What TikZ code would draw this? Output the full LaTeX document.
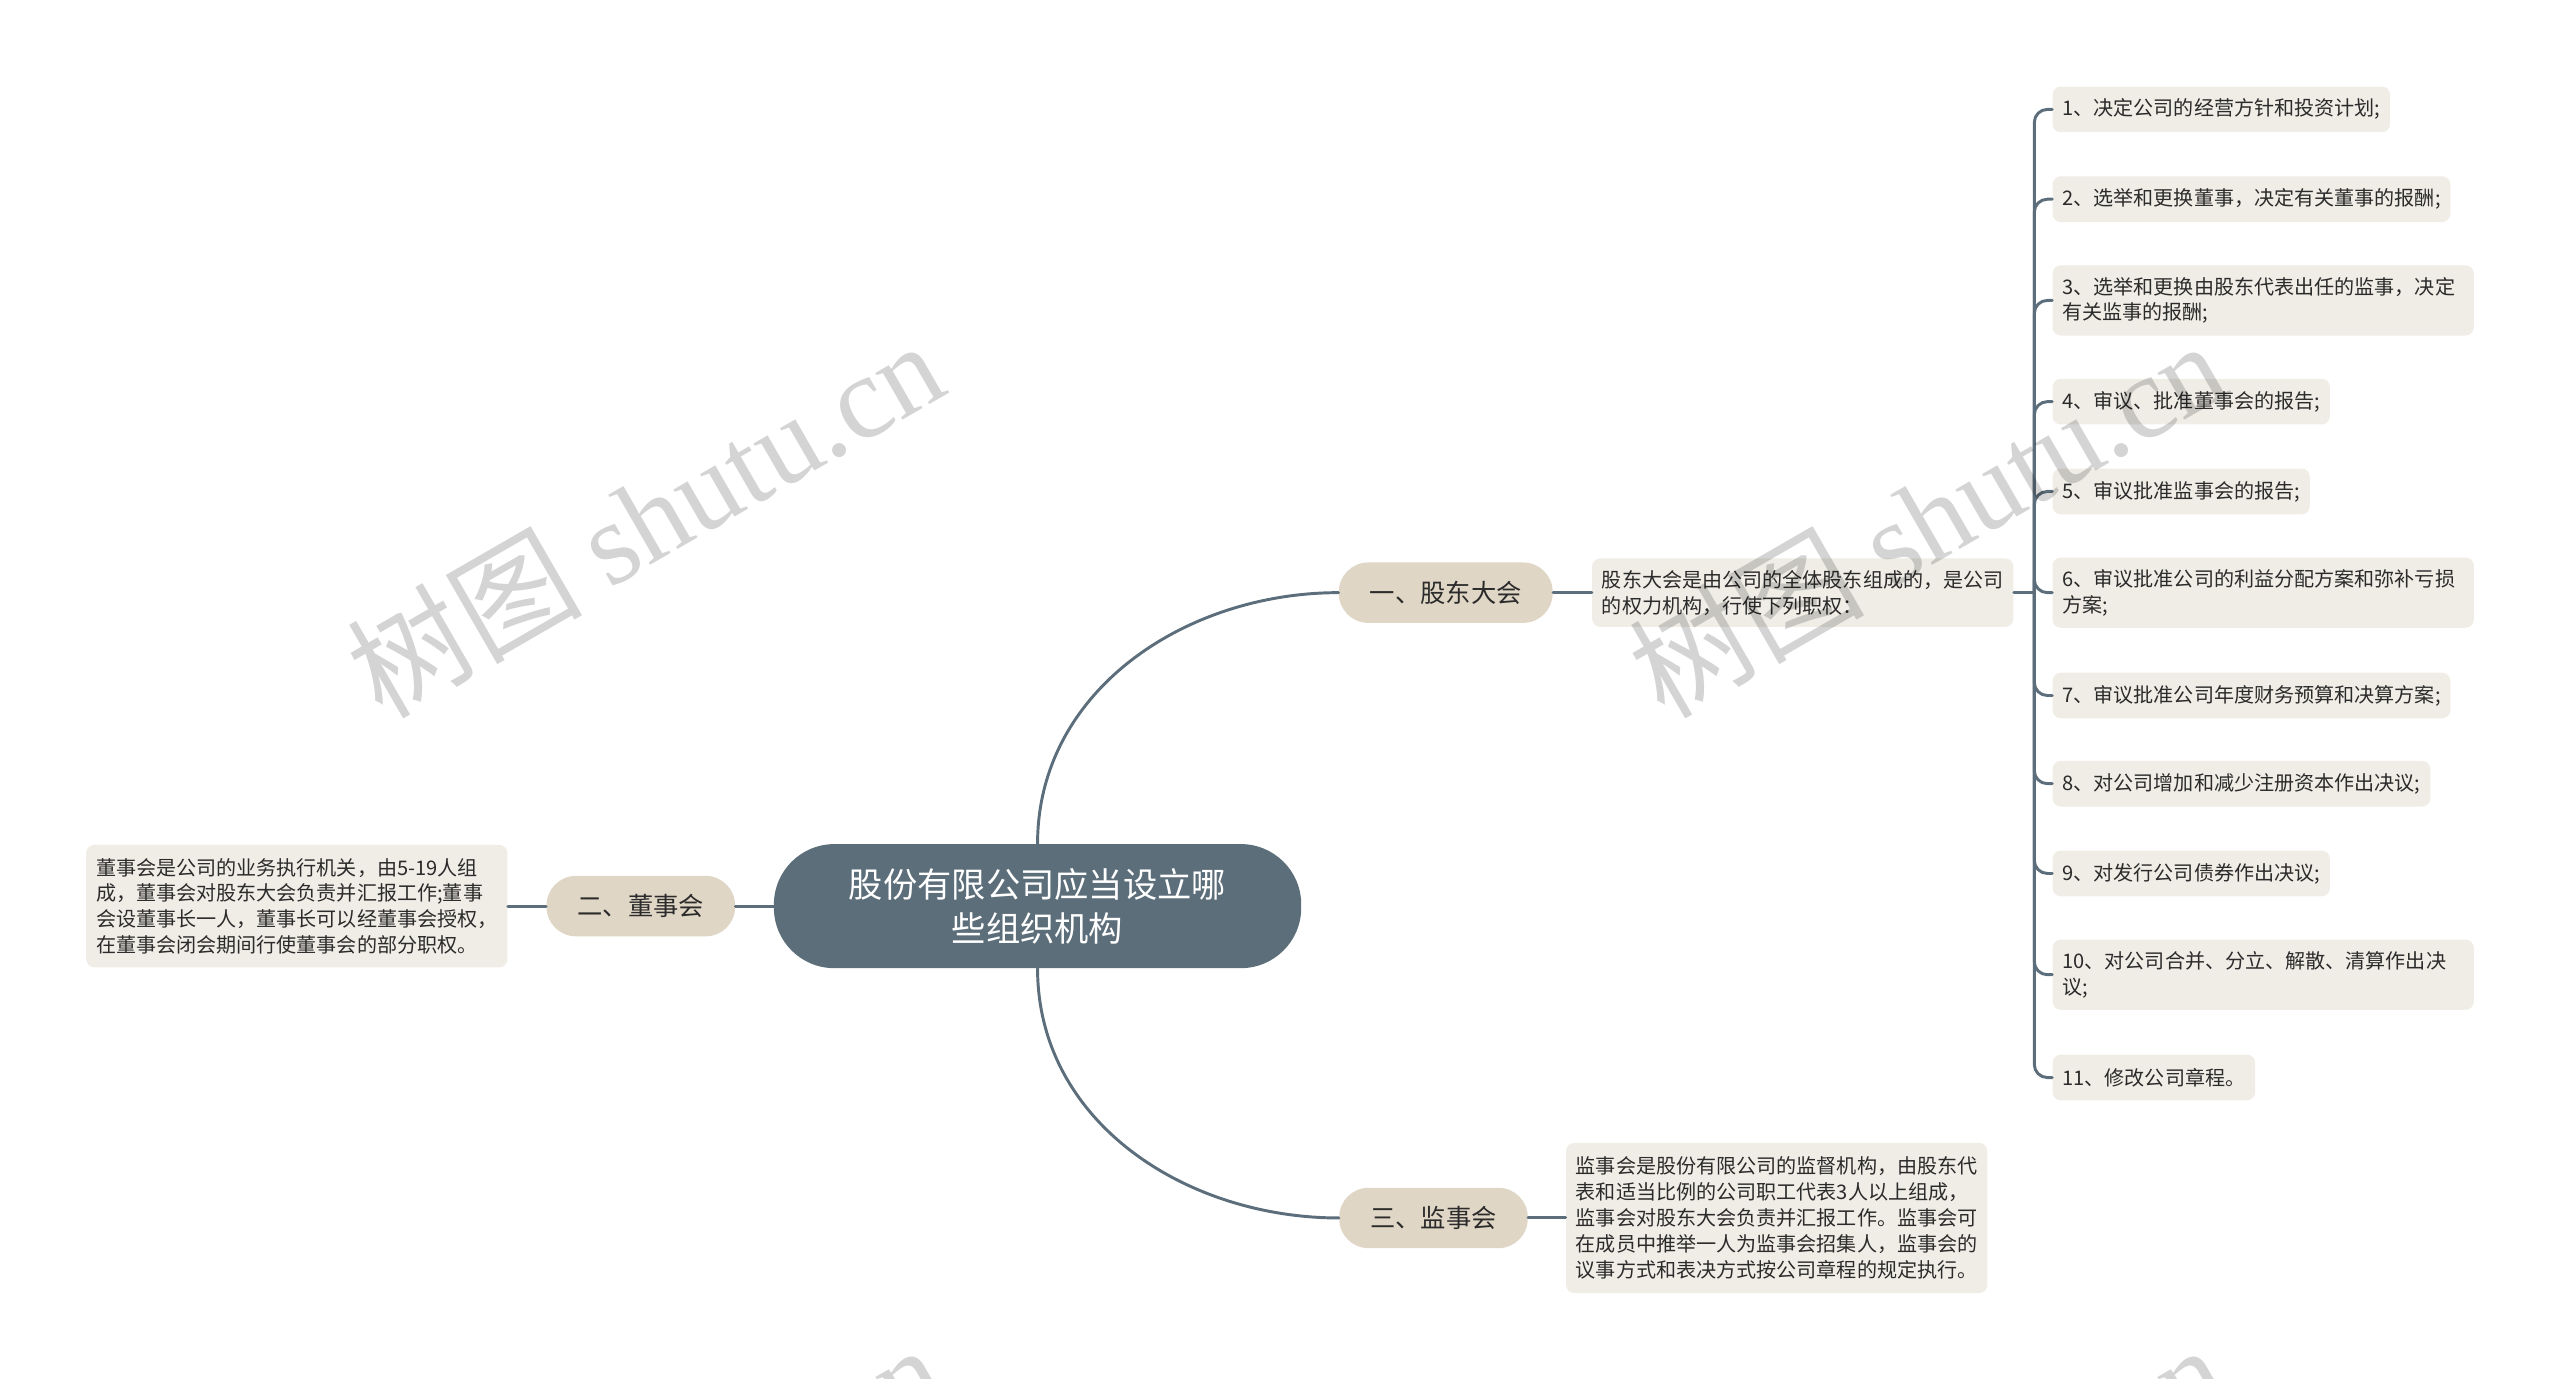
\documentclass[tikz,border=0pt]{standalone}
\usepackage{fontspec}
\setmainfont{Noto Sans CJK SC}
\newfontfamily\wmserif{Liberation Serif}
\definecolor{linec}{HTML}{5C6E7B}
\definecolor{rootc}{HTML}{5C6E7A}
\definecolor{topicc}{HTML}{E0D6C6}
\definecolor{notec}{HTML}{F0EDE6}
\definecolor{txtc}{HTML}{2B2B2B}
\begin{document}
\begin{tikzpicture}[x=1pt, y=-1pt, line join=round, line cap=round,
  conn/.style={draw=linec, line width=1.8pt},
  root/.style={fill=rootc, text=white, rounded corners=37pt, minimum width=323pt, minimum height=76pt, align=center, font=\fontsize{21}{27}\selectfont},
  topic/.style={fill=topicc, text=txtc, rounded corners=18pt, minimum height=37pt, inner xsep=19pt, font=\fontsize{15.5}{18}\selectfont},
  note/.style={fill=notec, text=txtc, rounded corners=5pt, align=left, inner xsep=6pt, inner ysep=4pt, font=\fontsize{12.3}{15.8}\selectfont},
  item/.style={note, anchor=west, minimum height=28pt},
  itemtwo/.style={item, minimum height=43pt, text width=246pt},
  wm/.style={rotate=30, text=black, text opacity=0.17, font=\fontsize{72}{72}\selectfont}]
\useasboundingbox (0,0) rectangle (1568,844.6);
\clip (0,0) rectangle (1568,844.6);
\node[root] (root) at (635.5,555) {股份有限公司应当设立哪\\些组织机构};
\node[topic] (b1) at (885.5,363) {一、股东大会};
\node[topic] (b2) at (392.5,555) {二、董事会};
\node[topic] (b3) at (878,746) {三、监事会};
\node[note, anchor=west, minimum height=42pt] (d1) at (975,363) {股东大会是由公司的全体股东组成的，是公司\\的权力机构，行使下列职权：};
\node[note, anchor=east, minimum height=75pt] (d2) at (311,555) {董事会是公司的业务执行机关，由5-19人组\\成，董事会对股东大会负责并汇报工作;董事\\会设董事长一人，董事长可以经董事会授权，\\在董事会闭会期间行使董事会的部分职权。};
\node[note, anchor=west, minimum height=92pt] (d3) at (959,746) {监事会是股份有限公司的监督机构，由股东代\\表和适当比例的公司职工代表3人以上组成，\\监事会对股东大会负责并汇报工作。监事会可\\在成员中推举一人为监事会招集人，监事会的\\议事方式和表决方式按公司章程的规定执行。};
\node[item] (i1) at (1257,67) {1、决定公司的经营方针和投资计划;};
\node[item] (i2) at (1257,122) {2、选举和更换董事，决定有关董事的报酬;};
\node[itemtwo] (i3) at (1257,184) {3、选举和更换由股东代表出任的监事，决定\\有关监事的报酬;};
\node[item] (i4) at (1257,246) {4、审议、批准董事会的报告;};
\node[item] (i5) at (1257,301) {5、审议批准监事会的报告;};
\node[itemtwo] (i6) at (1257,363) {6、审议批准公司的利益分配方案和弥补亏损\\方案;};
\node[item] (i7) at (1257,426) {7、审议批准公司年度财务预算和决算方案;};
\node[item] (i8) at (1257,480) {8、对公司增加和减少注册资本作出决议;};
\node[item] (i9) at (1257,535) {9、对发行公司债券作出决议;};
\node[itemtwo] (i10) at (1257,597) {10、对公司合并、分立、解散、清算作出决\\议;};
\node[item] (i11) at (1257,660) {11、修改公司章程。};
\coordinate (bus) at (1246,363);
\draw[conn] (root.north) to[out=90, in=180] (b1.west);
\draw[conn] (root.south) to[out=-90, in=180] (b3.west);
\draw[conn] (root.west) -- (b2.east);
\draw[conn] (b1.east) -- (d1.west);
\draw[conn] (b2.west) -- (d2.east);
\draw[conn] (b3.east) -- (d3.west);
\draw[conn] (d1.east) -- (bus);
\foreach \i in {1,...,11}
  \draw[conn, rounded corners=8pt] (bus) |- (i\i.west);
\node[wm] (wm1) at (395,317) {树图 {\wmserif shutu.cn}};
\node[wm] (wm2) at (1180,317) {树图 {\wmserif shutu.cn}};
\node[wm] (wm3) at (395,932) {树图 {\wmserif shutu.cn}};
\node[wm] (wm4) at (1180,932) {树图 {\wmserif shutu.cn}};
\end{tikzpicture}
\end{document}
